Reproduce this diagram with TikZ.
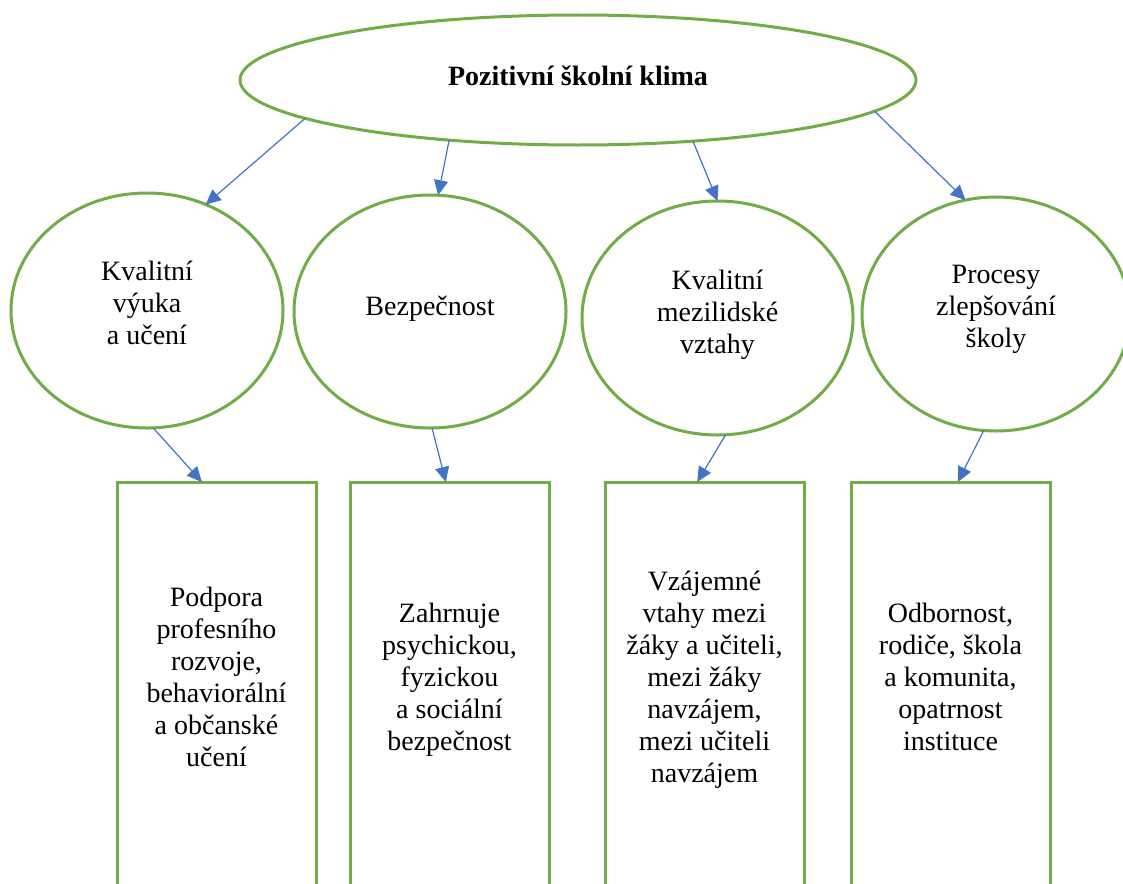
\documentclass[tikz,border=0pt]{standalone}
\usepackage{fontspec}
\setmainfont{Liberation Serif}
\usetikzlibrary{shapes.geometric,arrows.meta}
\definecolor{leafgreen}{HTML}{70AD47}
\definecolor{linkblue}{HTML}{4472C4}

\begin{document}
\begin{tikzpicture}[x=1pt,y=-1pt,
  every node/.style={inner sep=0pt, outer sep=0pt},
  txt/.style={font=\fontsize{28}{32}\selectfont, align=center},
  headtxt/.style={font=\fontsize{28}{32}\selectfont\bfseries, align=center},
  topic/.style={ellipse, draw=leafgreen, line width=3pt},
  detail/.style={rectangle, draw=leafgreen, line width=3pt,
                 minimum width=199pt, minimum height=418pt},
  link/.style={draw=linkblue, line width=1.2pt,
               -{Triangle[length=15pt,width=14pt]}}
]
\useasboundingbox (0,0) rectangle (1123,883);
\clip (0,0) rectangle (1123,883);

% main ellipse
\node[topic, minimum width=676pt, minimum height=130pt] (top) at (578,80) {};
\node[headtxt] (toptxt) at (578,76) {Pozitivní školní klima};

% four areas
\node[topic, minimum width=272pt, minimum height=235pt] (c1) at (147,310.5) {};
\node[topic, minimum width=272pt, minimum height=233pt] (c2) at (430,311.5) {};
\node[topic, minimum width=271pt, minimum height=234pt] (c3) at (717.5,318) {};
\node[topic, minimum width=268pt, minimum height=234pt] (c4) at (996,314) {};

\node[txt] (c1txt) at (147,303) {Kvalitní\\výuka\\a učení};
\node[txt] (c2txt) at (430,308.5) {Bezpečnost};
\node[txt] (c3txt) at (717.5,315) {Kvalitní\\mezilidské\\vztahy};
\node[txt] (c4txt) at (996,309) {Procesy\\zlepšování\\školy};

% description boxes (running past the lower edge)
\node[detail] (b1) at (216.5,691) {};
\node[detail] (b2) at (449.5,691) {};
\node[detail] (b3) at (704.5,691) {};
\node[detail] (b4) at (950.5,691) {};

\node[txt] (b1txt) at (216.5,676.5) {Podpora\\profesního\\rozvoje,\\behaviorální\\a občanské\\učení};
\node[txt] (b2txt) at (449.5,679.5) {Zahrnuje\\psychickou,\\fyzickou\\a sociální\\bezpečnost};
\node[txt] (b3txt) at (704.5,679.5) {Vzájemné\\vtahy mezi\\žáky a učiteli,\\mezi žáky\\navzájem,\\mezi učiteli\\navzájem};
\node[txt] (b4txt) at (950.5,676.5) {Odbornost,\\rodiče, škola\\a komunita,\\opatrnost\\instituce};

% connectors
\draw[link] (top.188.6) -- (c1.61.5);
\draw[link] (top.205.3) -- (c2.86.1);
\draw[link] (top.332.1) -- (c3.90);
\draw[link] (top.354.1) -- (c4.105.1);

\draw[link] (c1.273.4) -- (b1.94.5);
\draw[link] (c2.271) -- (b2.91);
\draw[link] (c3.274.2) -- (b3.92);
\draw[link] (c4.264.5) -- (b4.88.5);
\end{tikzpicture}
\end{document}
